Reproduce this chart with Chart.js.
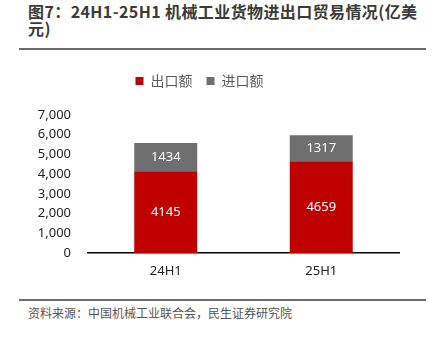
<!DOCTYPE html>
<html>
<head>
<meta charset="utf-8">
<script src="https://cdn.jsdelivr.net/npm/chart.js@4"></script>
<style>
  html, body { margin: 0; padding: 0; background: #fff; }
  #page { position: relative; width: 437px; height: 338px; overflow: hidden; font-family: "Noto Sans CJK SC", "Noto Sans", sans-serif; }
  #titulo { position: absolute; left: 28px; top: 3px; width: 405px; font-size: 16px; font-weight: bold; line-height: 17px; letter-spacing: 0.4px; color: #3a3a3a; }
  .linha { position: absolute; left: 19px; width: 407px; height: 2px; background: #6b6b6b; }
  #fonte { position: absolute; left: 28px; top: 304px; font-size: 12px; color: #555; }
  #box { position: absolute; left: 0; top: 60px; width: 437px; height: 220px; }
</style>
</head>
<body>
<div id="page">
  <div id="titulo">图7：24H1-25H1 机械工业货物进出口贸易情况(亿美<br>元)</div>
  <div class="linha" style="top:48px"></div>
  <div id="box"><canvas id="grafico"></canvas></div>
  <div class="linha" style="top:299px"></div>
  <div id="fonte">资料来源：中国机械工业联合会，民生证券研究院</div>
</div>
<script>
// Dados
const categorias = ['24H1', '25H1'];
const exportacoes = [4145, 4659];   // 出口额
const importacoes = [1434, 1317];   // 进口额
const ticksY = [0, 1000, 2000, 3000, 4000, 5000, 6000, 7000];

// Escreve o valor no meio de cada segmento da barra
const rotulos = {
  id: 'rotulos',
  afterDatasetsDraw(chart) {
    const ctx = chart.ctx;
    ctx.save();
    ctx.font = '13px "Noto Sans", sans-serif';
    ctx.fillStyle = '#ffffff';
    ctx.textAlign = 'center';
    ctx.textBaseline = 'middle';
    chart.data.datasets.forEach((ds, i) => {
      chart.getDatasetMeta(i).data.forEach((bar, j) => {
        const meio = (bar.y + bar.base) / 2;
        ctx.fillText(String(ds.data[j]), bar.x, meio);
      });
    });
    ctx.restore();
  }
};

// Mais espaço entre a legenda e a área do gráfico
const espacoLegenda = {
  id: 'espacoLegenda',
  beforeInit(chart) {
    const fitOriginal = chart.legend.fit;
    chart.legend.fit = function () {
      fitOriginal.bind(chart.legend)();
      this.height += 17;
    };
  }
};

new Chart(document.getElementById('grafico'), {
  type: 'bar',
  data: {
    labels: categorias,
    datasets: [
      { label: '出口额', data: exportacoes, backgroundColor: '#C00000' },
      { label: '进口额', data: importacoes, backgroundColor: '#6F6F6F' }
    ]
  },
  options: {
    responsive: true,
    maintainAspectRatio: false,
    animation: false,
    layout: { padding: { left: 0, right: 38, top: 0, bottom: 0 } },
    datasets: { bar: { categoryPercentage: 1, barPercentage: 0.405 } },
    scales: {
      x: {
        stacked: true,
        grid: { display: false },
        border: { color: '#000', width: 1.5 },
        afterFit: (scale) => { scale.height = 27; },
        ticks: { color: '#222', font: { size: 13, family: '"Noto Sans", sans-serif' }, padding: 2 }
      },
      y: {
        stacked: true,
        min: 0,
        max: 7000,
        afterBuildTicks: (scale) => { scale.ticks = ticksY.map(v => ({ value: v })); },
        afterFit: (scale) => { scale.width = 88; },
        grid: { display: false },
        border: { display: false },
        ticks: {
          color: '#222',
          font: { size: 13, family: '"Noto Sans", sans-serif' },
          padding: 9,
          callback: (v) => v.toLocaleString('en-US')
        }
      }
    },
    plugins: {
      legend: {
        position: 'top',
        labels: {
          boxWidth: 8,
          boxHeight: 8,
          color: '#595959',
          font: { size: 14, family: '"Noto Sans CJK SC", sans-serif' },
          padding: 14
        }
      },
      tooltip: { enabled: false }
    }
  },
  plugins: [rotulos, espacoLegenda]
});
</script>
</body>
</html>
